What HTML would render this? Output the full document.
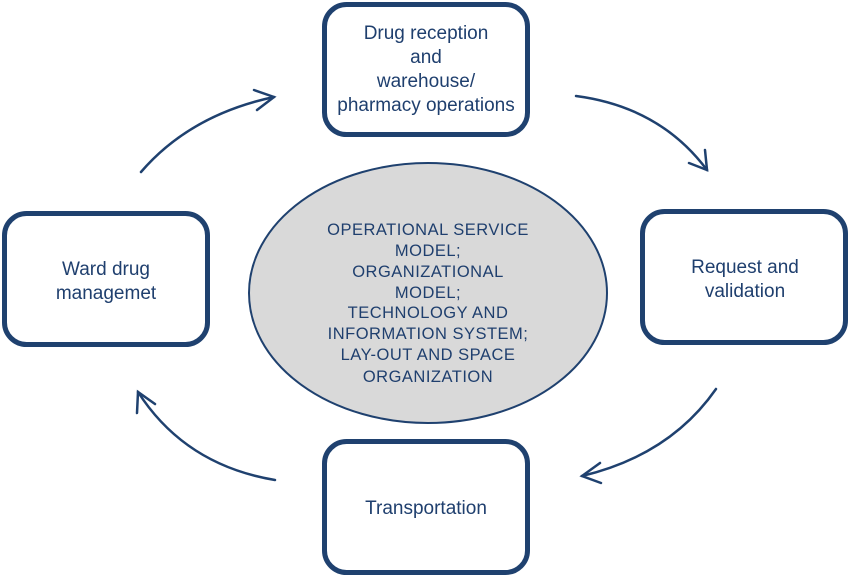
<!DOCTYPE html>
<html><head><style>
body{margin:0;background:#fff;}
svg{display:block;}
text{font-family:"Liberation Sans",sans-serif;fill:#1f3f6e;text-anchor:middle;}
</style></head><body>
<svg width="850" height="577" viewBox="0 0 850 577">
<g fill="#fff" stroke="#1f416f" stroke-width="5">
<rect x="324.5" y="4.5" width="203" height="130" rx="22"/>
<rect x="4.5" y="213.5" width="203" height="131" rx="22"/>
<rect x="642.5" y="211.5" width="203" height="131" rx="22"/>
<rect x="324.5" y="441.5" width="203" height="131" rx="22"/>
</g>
<ellipse cx="428" cy="293" rx="179" ry="130" fill="#d9d9d9" stroke="#1f416f" stroke-width="2"/>
<g fill="none" stroke="#1f416f" stroke-width="2.5" stroke-linecap="round">
<path d="M141,172 Q190,115 274,97"/>
<path d="M254,90 L274,97 L257,110"/>
<path d="M576,96 Q660,107 707,170"/>
<path d="M705,150 L707,170 L689,163"/>
<path d="M716,389 Q670,455 582,476"/>
<path d="M600,463 L582,476 L601,483"/>
<path d="M275,480 Q185,465 138,392"/>
<path d="M137,413 L138,392 L155,404"/>
</g>
<g font-size="19">
<text x="426" y="39">Drug reception</text>
<text x="426" y="63">and</text>
<text x="426" y="87">warehouse/</text>
<text x="426" y="111">pharmacy operations</text>
<text x="106" y="275">Ward drug</text>
<text x="106" y="299">managemet</text>
<text x="745" y="273">Request and</text>
<text x="745" y="297">validation</text>
<text x="426" y="514">Transportation</text>
</g>
<g font-size="16.5" letter-spacing="0.5">
<text x="428" y="235">OPERATIONAL SERVICE</text>
<text x="428" y="256">MODEL;</text>
<text x="428" y="277">ORGANIZATIONAL</text>
<text x="428" y="298">MODEL;</text>
<text x="428" y="318">TECHNOLOGY AND</text>
<text x="428" y="339">INFORMATION SYSTEM;</text>
<text x="428" y="360">LAY-OUT AND SPACE</text>
<text x="428" y="382">ORGANIZATION</text>
</g>
</svg>
</body></html>
